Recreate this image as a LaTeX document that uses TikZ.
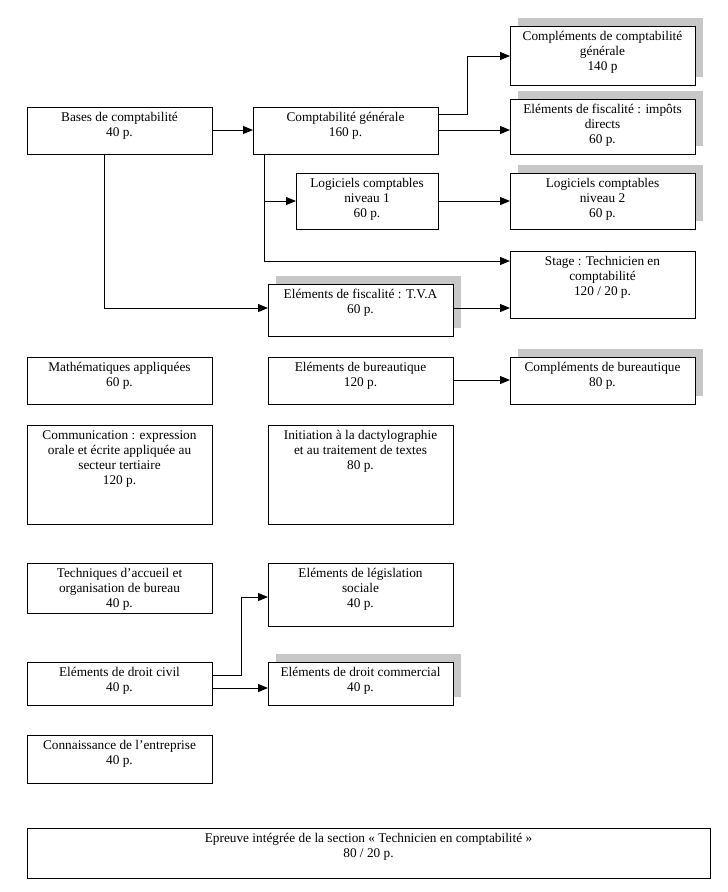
\documentclass[tikz,border=0pt]{standalone}
\usepackage{fontspec}
\setmainfont{Liberation Serif}
\usetikzlibrary{arrows.meta}
\begin{document}
\begin{tikzpicture}[x=1pt,y=-1pt,
  box/.style={draw=black,line width=0.9pt,fill=white},
  txt/.style={anchor=north,align=center,font=\fontsize{13.3}{15.2}\selectfont,inner sep=0pt},
  shad/.style={fill=black!22,draw=none},
  arr/.style={line width=1pt,-{Triangle[length=10pt,width=8pt]}}]
\useasboundingbox (0,0) rectangle (728,892);
\newcommand\bx[7]{%
  \ifnum#6=1 \fill[shad] (#2+8,#3-8) rectangle (#4+8,#5-8);\fi
  \path[box] (#2,#3) rectangle (#4,#5);
  \node[txt] (#1) at ({(#2+#4)/2},#3+5) {#7};}
\bx{compl}{510}{26}{695}{85}{1}{Compléments de comptabilité\\générale\\140 p}
\bx{impots}{510}{99}{695}{154}{1}{Eléments de fiscalité : impôts\\directs\\60 p.}
\bx{log2}{510}{173}{695}{229}{1}{Logiciels comptables\\niveau 2\\60 p.}
\bx{stage}{510}{251}{695}{318}{0}{Stage : Technicien en\\comptabilité\\120 / 20 p.}
\bx{compta}{253}{107}{438}{154}{0}{Comptabilité générale\\160 p.}
\bx{log1}{296}{173}{438}{229}{0}{Logiciels comptables\\niveau 1\\60 p.}
\bx{tva}{268}{284}{453}{336}{1}{Eléments de fiscalité : T.V.A\\60 p.}
\bx{bases}{27}{107}{212}{154}{0}{Bases de comptabilité\\40 p.}
\bx{math}{27}{357}{212}{404}{0}{Mathématiques appliquées\\60 p.}
\bx{bur}{268}{357}{453}{404}{0}{Eléments de bureautique\\120 p.}
\bx{cbur}{510}{357}{695}{404}{1}{Compléments de bureautique\\80 p.}
\bx{comm}{27}{425}{212}{524}{0}{Communication : expression\\orale et écrite appliquée au\\secteur tertiaire\\120 p.}
\bx{dact}{268}{425}{453}{524}{0}{Initiation à la dactylographie\\et au traitement de textes\\80 p.}
\bx{accueil}{27}{563}{212}{613}{0}{Techniques d’accueil et\\organisation de bureau\\40 p.}
\bx{legis}{268}{563}{453}{626}{0}{Eléments de législation\\sociale\\40 p.}
\bx{civil}{27}{662}{212}{705}{0}{Eléments de droit civil\\40 p.}
\bx{comme}{268}{662}{453}{705}{1}{Eléments de droit commercial\\40 p.}
\bx{entr}{27}{735}{212}{783}{0}{Connaissance de l’entreprise\\40 p.}
\bx{epr}{27}{828}{710}{878}{0}{Epreuve intégrée de la section « Technicien en comptabilité »\\80 / 20 p.}
\coordinate (j1) at (104,154);
\coordinate (j2) at (264,154);
\coordinate (j3) at (438,114);
\coordinate (j4) at (212,675);
\draw[arr] (212,130) -- (253,130);
\draw[arr] (j1) |- (268,308);
\draw[arr] (j3) -- (467,114) |- (510,56);
\draw[arr] (438,130) -- (510,130);
\draw[arr] (j2) |- (510,261);
\draw[arr] (264,201) -- (296,201);
\draw[arr] (438,201) -- (510,201);
\draw[arr] (453,308) -- (510,308);
\draw[arr] (453,380) -- (510,380);
\draw[arr] (212,688) -- (268,688);
\draw[arr] (j4) -- (241,675) |- (268,597);
\end{tikzpicture}
\end{document}
